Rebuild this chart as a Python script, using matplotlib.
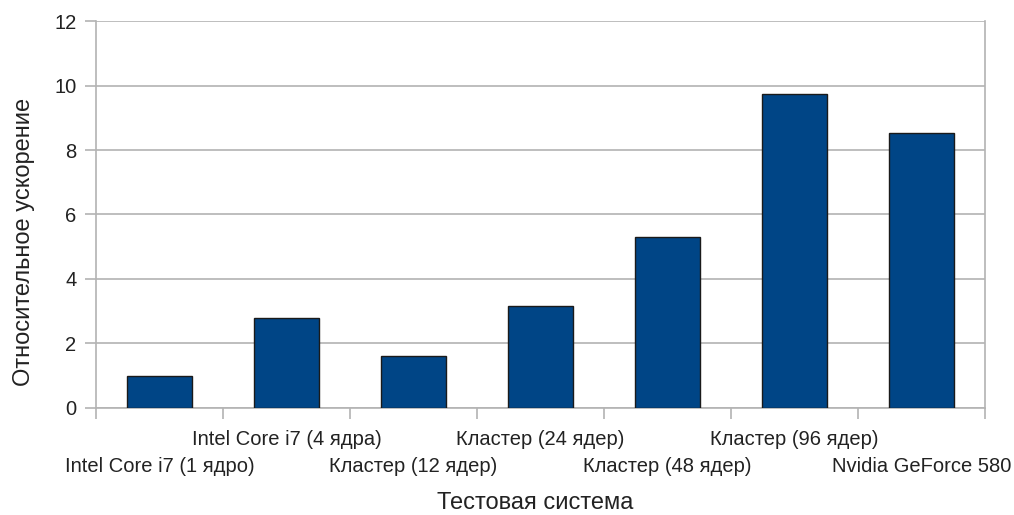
import matplotlib
matplotlib.use("Agg")
import matplotlib.pyplot as plt
import numpy as np

systems = [
    "Intel Core i7 (1 ядро)",
    "Intel Core i7 (4 ядра)",
    "Кластер (12 ядер)",
    "Кластер (24 ядер)",
    "Кластер (48 ядер)",
    "Кластер (96 ядер)",
    "Nvidia GeForce 580",
]
speedup = [1.0, 2.8, 1.6, 3.15, 5.3, 9.73, 8.53]
y_ticks = [0, 2, 4, 6, 8, 10, 12]

plt.rcParams["font.family"] = ["Liberation Sans", "DejaVu Sans"]

fig = plt.figure(figsize=(10.14, 5.15), dpi=100)
ax = fig.add_axes([0.0947, 0.2078, 0.8767, 0.7514])

x = np.arange(len(systems))
ax.bar(x, speedup, width=0.51, color="#004586", edgecolor="#1a1a1a", linewidth=1.0, zorder=3)

ax.set_xlim(-0.5, len(systems) - 0.5)
ax.set_ylim(0, 12)
ax.set_yticks(y_ticks)
ax.yaxis.grid(True, color="#b3b3b3", linewidth=1.2, zorder=0)
ax.tick_params(axis="y", length=8, width=1.2, color="#b3b3b3", labelsize=14.5, pad=6, labelcolor="#222222")

ax.set_xticks(x)
ax.set_xticklabels(systems)
ax.set_xticks(np.arange(-0.5, len(systems), 1.0), minor=True)
ax.tick_params(axis="x", which="major", length=0, labelsize=14.5, labelcolor="#222222")
ax.tick_params(axis="x", which="minor", length=8, width=1.2, color="#b3b3b3")
# staggered category labels, like the office chart
for i, t in enumerate(ax.xaxis.get_major_ticks()):
    t.set_pad(35 if i % 2 == 0 else 15.5)

for side in ["left", "right", "bottom"]:
    ax.spines[side].set_color("#b3b3b3")
    ax.spines[side].set_linewidth(1.2)
ax.spines["top"].set_visible(False)

ax.set_xlabel("Тестовая система", fontsize=17, color="#222222", labelpad=12)
ax.set_ylabel("Относительное ускорение", fontsize=17, color="#222222", labelpad=14)
ax.xaxis.label.set_x(0.494)
ax.yaxis.label.set_y(0.43)

fig.savefig("out.png", dpi=100)
